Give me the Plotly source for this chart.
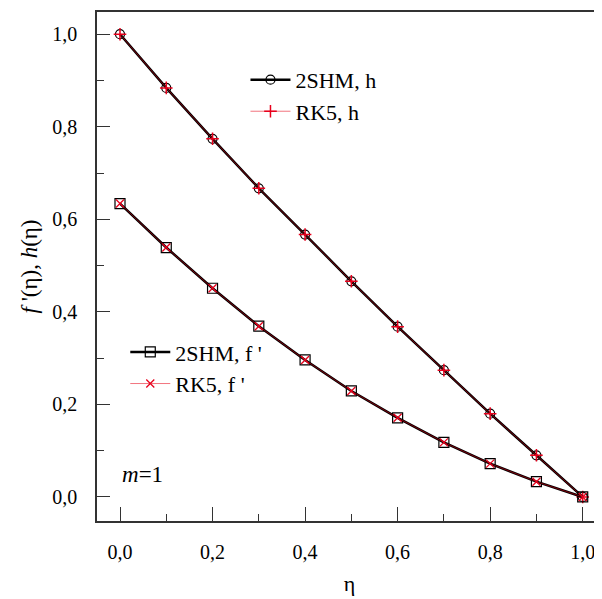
import plotly.graph_objects as go

eta = [0.0, 0.1, 0.2, 0.3, 0.4, 0.5, 0.6, 0.7, 0.8, 0.9, 1.0]
h_2shm = [1.000, 0.884, 0.774, 0.667, 0.567, 0.466, 0.368, 0.274, 0.180, 0.090, 0.0]
h_rk5 = [1.000, 0.884, 0.774, 0.667, 0.567, 0.466, 0.368, 0.274, 0.180, 0.090, 0.0]
fp_2shm = [0.634, 0.539, 0.451, 0.369, 0.296, 0.229, 0.171, 0.118, 0.072, 0.033, 0.0]
fp_rk5 = [0.634, 0.539, 0.451, 0.369, 0.296, 0.229, 0.171, 0.118, 0.072, 0.033, 0.0]
tick_vals = [0.0, 0.2, 0.4, 0.6, 0.8, 1.0]
tick_text = ["0,0", "0,2", "0,4", "0,6", "0,8", "1,0"]

FONT = "Liberation Serif"

fig = go.Figure()

fig.add_trace(go.Scatter(
    x=eta, y=h_2shm, mode="lines+markers", name="2SHM, h",
    line=dict(color="black", width=2.5),
    marker=dict(symbol="circle-open", size=9, color="black", line=dict(width=1.2)),
    legend="legend", legendgroup="a"))
fig.add_trace(go.Scatter(
    x=eta, y=h_rk5, mode="lines+markers", name="RK5, h",
    line=dict(color="rgba(230,0,20,0.55)", width=1),
    marker=dict(symbol="cross-thin", size=9, color="#e8001c", line=dict(width=1.5, color="#e8001c")),
    legend="legend", legendgroup="b"))
fig.add_trace(go.Scatter(
    x=eta, y=fp_2shm, mode="lines+markers", name="2SHM, f '",
    line=dict(color="black", width=2.5),
    marker=dict(symbol="square-open", size=10, color="black", line=dict(width=1.2)),
    legend="legend2", legendgroup="c"))
fig.add_trace(go.Scatter(
    x=eta, y=fp_rk5, mode="lines+markers", name="RK5, f '",
    line=dict(color="rgba(230,0,20,0.55)", width=1),
    marker=dict(symbol="x-thin", size=8, color="#e8001c", line=dict(width=1.3, color="#e8001c")),
    legend="legend2", legendgroup="d"))

leg_common = dict(font=dict(family=FONT, size=22, color="black"),
                  bgcolor="rgba(0,0,0,0)", traceorder="grouped", tracegroupgap=0,
                  itemwidth=40)

fig.update_layout(
    width=594, height=591,
    margin=dict(l=89, r=0, t=4, b=78, autoexpand=False),
    paper_bgcolor="white", plot_bgcolor="white",
    font=dict(family=FONT, size=20, color="black"),
    legend=dict(x=0.294, y=0.908, xanchor="left", yanchor="top", **leg_common),
    legend2=dict(x=0.056, y=0.373, xanchor="left", yanchor="top", **leg_common),
    xaxis=dict(
        range=[-0.0497, 1.0417], tickmode="array",
        tickvals=tick_vals, ticktext=tick_text, automargin=False,
        ticks="inside", ticklen=14, tickwidth=1.3, tickcolor="#333",
        minor=dict(ticks="inside", ticklen=7, tickwidth=1.2, tickcolor="#333", dtick=0.1, tick0=0),
        showline=True, linecolor="#333", linewidth=1.5, mirror=True,
        showgrid=False, zeroline=False,
        tickfont=dict(family=FONT, size=20, color="black"),
        ticklabelstandoff=12,
        title=dict(text="η", font=dict(family=FONT, size=22, color="black"), standoff=14),
    ),
    yaxis=dict(
        range=[-0.052, 1.048], tickmode="array",
        tickvals=tick_vals, ticktext=tick_text, automargin=False,
        ticks="inside", ticklen=13, tickwidth=1.3, tickcolor="#333",
        minor=dict(ticks="inside", ticklen=7, tickwidth=1.2, tickcolor="#333", dtick=0.1, tick0=0),
        showline=True, linecolor="#333", linewidth=1.5, mirror=False,
        showgrid=False, zeroline=False,
        tickfont=dict(family=FONT, size=20, color="black"),
        ticklabelstandoff=14,
        title=dict(text="<i>f</i> '(η), <i>h</i>(η)", font=dict(family=FONT, size=23, color="black"), standoff=8),
    ),
    annotations=[dict(
        x=0.0, y=0.048, xref="x", yref="y", xanchor="left", yanchor="middle",
        text="<i>m</i>=1", showarrow=False, font=dict(family=FONT, size=23, color="black"))],
)

fig.write_html("out.html")
